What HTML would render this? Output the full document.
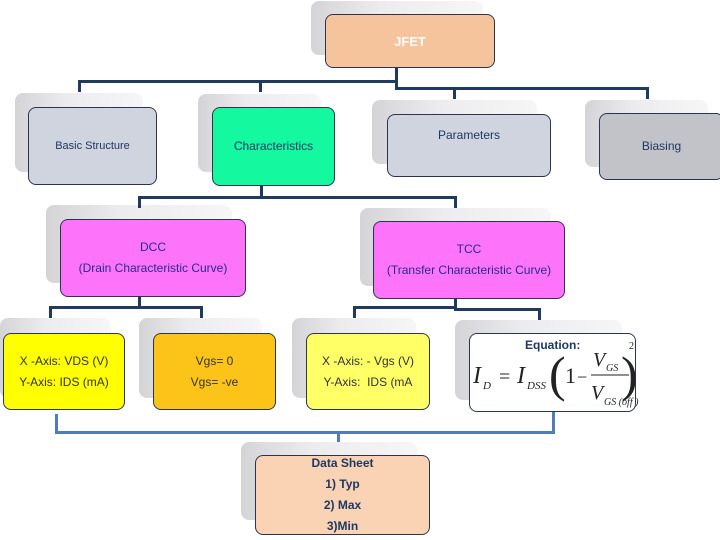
<!DOCTYPE html>
<html><head><meta charset="utf-8"><style>
body{margin:0;width:720px;height:540px;background:#fff;position:relative;overflow:hidden;font-family:"Liberation Sans",sans-serif}
.s{position:absolute;border-radius:8px;background:linear-gradient(90deg,#d4d4d6 0%,#ececee 40%,#f6f6f7 100%)}
.b{position:absolute;border:1px solid #2b3550;border-radius:8px;box-sizing:border-box;display:flex;flex-direction:column;align-items:center;justify-content:center;text-align:center;color:#1f3864;font-size:12px;line-height:21px}
.l{position:absolute;background:#1f3a5f}
.bl{position:absolute;background:#4f7db5}
</style></head><body>
<!-- shadows -->
<div class="s" style="left:311px;top:1px;width:172px;height:54px"></div>
<div class="s" style="left:15px;top:93px;width:128px;height:79px"></div>
<div class="s" style="left:198px;top:94px;width:123px;height:78px"></div>
<div class="s" style="left:372px;top:100px;width:165px;height:64px"></div>
<div class="s" style="left:585px;top:100px;width:123px;height:67px"></div>
<div class="s" style="left:46px;top:205px;width:186px;height:78px"></div>
<div class="s" style="left:360px;top:208px;width:191px;height:78px"></div>
<div class="s" style="left:0px;top:318px;width:111px;height:80px"></div>
<div class="s" style="left:139px;top:318px;width:123px;height:80px"></div>
<div class="s" style="left:292px;top:318px;width:124px;height:80px"></div>
<div class="s" style="left:455px;top:320px;width:167px;height:80px"></div>
<div class="s" style="left:241px;top:442px;width:176px;height:78px"></div>
<!-- connectors -->
<div class="l" style="left:395px;top:56px;width:3px;height:33px"></div>
<div class="l" style="left:78px;top:80px;width:320px;height:3px"></div>
<div class="l" style="left:395px;top:87px;width:254px;height:3px"></div>
<div class="l" style="left:78px;top:80px;width:3px;height:12px"></div>
<div class="l" style="left:259px;top:80px;width:3px;height:12px"></div>
<div class="l" style="left:453px;top:87px;width:3px;height:12px"></div>
<div class="l" style="left:646px;top:87px;width:3px;height:12px"></div>
<div class="l" style="left:260px;top:172px;width:3px;height:26px"></div>
<div class="l" style="left:138px;top:196px;width:319px;height:3px"></div>
<div class="l" style="left:138px;top:196px;width:3px;height:12px"></div>
<div class="l" style="left:454px;top:196px;width:3px;height:12px"></div>
<div class="l" style="left:138px;top:284px;width:3px;height:24px"></div>
<div class="l" style="left:49px;top:306px;width:154px;height:3px"></div>
<div class="l" style="left:49px;top:306px;width:3px;height:12px"></div>
<div class="l" style="left:200px;top:306px;width:3px;height:12px"></div>
<div class="l" style="left:454px;top:286px;width:3px;height:22px"></div>
<div class="l" style="left:353px;top:306px;width:104px;height:3px"></div>
<div class="l" style="left:454px;top:308px;width:87px;height:3px"></div>
<div class="l" style="left:353px;top:306px;width:3px;height:12px"></div>
<div class="l" style="left:538px;top:308px;width:3px;height:12px"></div>
<div class="bl" style="left:55px;top:414px;width:3px;height:20px"></div>
<div class="bl" style="left:552px;top:412px;width:3px;height:22px"></div>
<div class="bl" style="left:55px;top:431px;width:500px;height:3px"></div>
<div class="bl" style="left:337px;top:431px;width:3px;height:11px"></div>
<!-- boxes -->
<div class="b" style="left:325px;top:14px;width:170px;height:54px;background:#f6c49c;color:#fff;font-weight:bold;font-size:13px">JFET</div>
<div class="b" style="left:28px;top:107px;width:129px;height:78px;background:#cfd4de;font-size:11px">Basic Structure</div>
<div class="b" style="left:212px;top:107px;width:123px;height:79px;background:#14f9a0">Characteristics</div>
<div class="b" style="left:387px;top:114px;width:164px;height:63px;background:#cfd4de;justify-content:flex-start;padding-top:10px">Parameters</div>
<div class="b" style="left:599px;top:113px;width:125px;height:67px;background:#c2c3c8">Biasing</div>
<div class="b" style="left:60px;top:219px;width:186px;height:78px;background:#fd74fb;color:#2a2a8a">DCC<br>(Drain Characteristic Curve)</div>
<div class="b" style="left:373px;top:221px;width:192px;height:78px;background:#fd74fb;color:#2a2a8a">TCC<br>(Transfer Characteristic Curve)</div>
<div class="b" style="left:3px;top:333px;width:122px;height:77px;background:#ffff00;color:#333">X -Axis: VDS (V)<br>Y-Axis: IDS (mA)</div>
<div class="b" style="left:153px;top:333px;width:123px;height:77px;background:#fcc419;color:#333">Vgs= 0<br>Vgs= -ve</div>
<div class="b" style="left:306px;top:333px;width:124px;height:77px;background:#ffff66;color:#333">X -Axis: - Vgs (V)<br>Y-Axis:&nbsp; IDS (mA</div>
<div class="b" style="left:469px;top:333px;width:167px;height:79px;background:#fff"></div>
<div style="position:absolute;left:525px;top:338px;font-size:12px;font-weight:bold;color:#1f3864">Equation:</div>
<svg style="position:absolute;left:469px;top:333px" width="175" height="80">
<g font-family="Liberation Serif,serif" font-style="italic" fill="#222">
<text x="4" y="50" font-size="24">I</text><text x="14" y="56" font-size="11">D</text>
<text x="30" y="50" font-size="20" font-style="normal">=</text>
<text x="48" y="50" font-size="24">I</text><text x="58" y="56" font-size="11">DSS</text>
<text x="80" y="58" font-size="50" font-style="normal" font-weight="100">(</text>
<text x="96" y="50" font-size="22" font-style="normal">1</text>
<text x="108" y="50" font-size="18" font-style="normal">−</text>
<text x="124" y="33" font-size="20">V</text><text x="137" y="38" font-size="10">GS</text>
<line x1="122" y1="42" x2="160" y2="42" stroke="#222" stroke-width="1"/>
<text x="122" y="66" font-size="20">V</text><text x="135" y="72" font-size="10">GS (off )</text>
<text x="152" y="58" font-size="50" font-style="normal" font-weight="100">)</text>
<text x="160" y="16" font-size="10" font-style="normal">2</text>
</g></svg>
<div class="b" style="left:255px;top:455px;width:175px;height:80px;background:#fad3b5;font-weight:bold;font-size:12px">Data Sheet<br>1) Typ<br>2) Max<br>3)Min</div>
</body></html>
